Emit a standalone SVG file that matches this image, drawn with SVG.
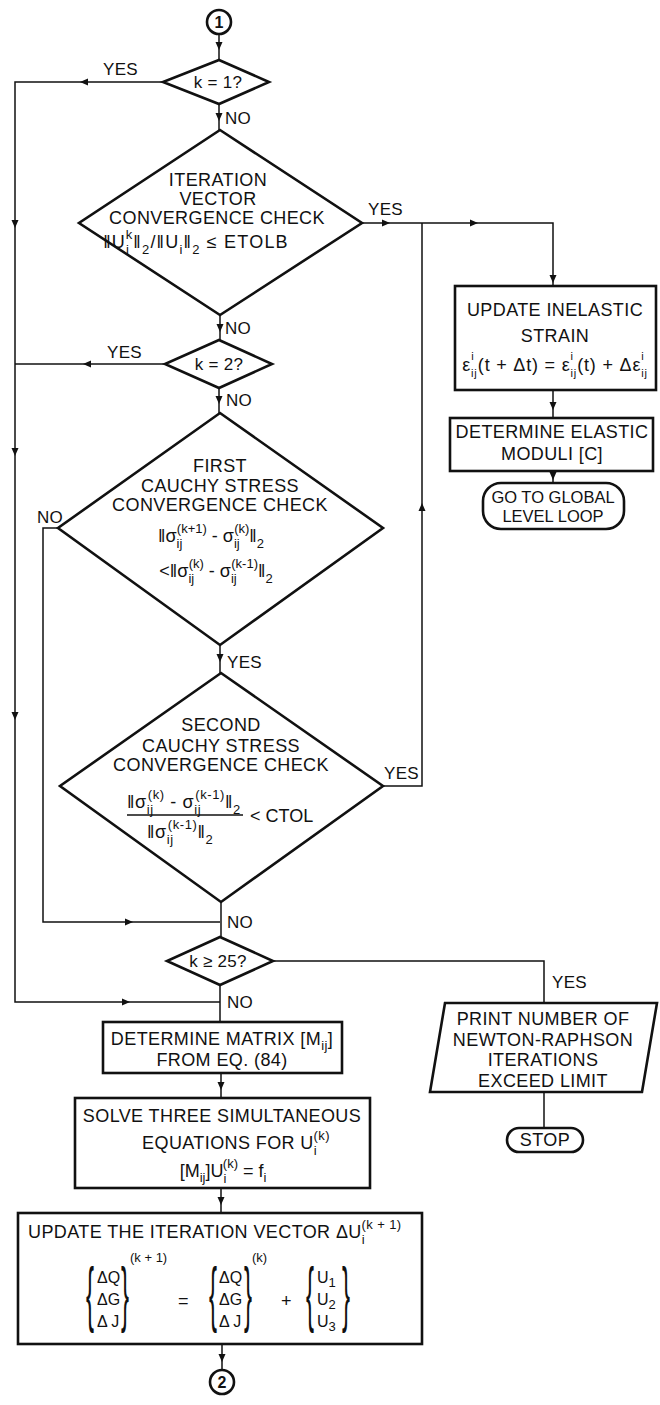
<svg xmlns="http://www.w3.org/2000/svg" width="660" height="1405" viewBox="0 0 660 1405">
<style>
text{font-family:"Liberation Sans",Arial,"DejaVu Sans",sans-serif;fill:#111}
.t{font-size:18px;letter-spacing:0.4px;text-anchor:middle}
.ts{text-anchor:start}
.l{font-size:17px;letter-spacing:0.3px}
.f{font-size:18px}
.v{font-size:16px}
.s{font-size:13px}
.xs{font-size:11px}
.n{fill:#fff;stroke:#111;stroke-width:2.6}
.c path{fill:none;stroke:#111;stroke-width:1.5}
.br{font-size:24px}
</style>
<defs>
<path id="ah" d="M0,0 L-8,-3.5 L-8,3.5 Z" fill="#111" stroke="none"/>
</defs>
<rect width="660" height="1405" fill="#fff"/>

<g id="connectors" class="c">
<path d="M219,34 V60"/>
<path d="M163,82 H15 V1002 H220"/>
<path d="M219,104 V130"/>
<path d="M362,223 H553 V286"/>
<path d="M220,315 V340"/>
<path d="M165,364 H15"/>
<path d="M219,388 V413"/>
<path d="M58,528 H43 V922 H220"/>
<path d="M220,645 V673"/>
<path d="M383,786 H422 V223"/>
<path d="M221,902 V937"/>
<path d="M273,961 H544 V1003"/>
<path d="M220,985 V1022"/>
<path d="M553,390 V418"/>
<path d="M553,471 V483"/>
<path d="M544,1092 V1128"/>
<path d="M221,1073 V1098"/>
<path d="M221,1188 V1213"/>
<path d="M222,1344 V1370"/>
<use href="#ah" transform="translate(219,50) rotate(90)"/>
<use href="#ah" transform="translate(80,82) rotate(180)"/>
<use href="#ah" transform="translate(15,228) rotate(90)"/>
<use href="#ah" transform="translate(219,121) rotate(90)"/>
<use href="#ah" transform="translate(390,223)"/>
<use href="#ah" transform="translate(478,223)"/>
<use href="#ah" transform="translate(553,283) rotate(90)"/>
<use href="#ah" transform="translate(220,332) rotate(90)"/>
<use href="#ah" transform="translate(83,364) rotate(180)"/>
<use href="#ah" transform="translate(15,456) rotate(90)"/>
<use href="#ah" transform="translate(219,404) rotate(90)"/>
<use href="#ah" transform="translate(133,922)"/>
<use href="#ah" transform="translate(220,662) rotate(90)"/>
<use href="#ah" transform="translate(422,503) rotate(-90)"/>
<use href="#ah" transform="translate(15,720) rotate(90)"/>
<use href="#ah" transform="translate(130,1002)"/>
<use href="#ah" transform="translate(553,410) rotate(90)"/>
<use href="#ah" transform="translate(553,480) rotate(90)"/>
<use href="#ah" transform="translate(221,1090) rotate(90)"/>
<use href="#ah" transform="translate(221,1205) rotate(90)"/>
<use href="#ah" transform="translate(222,1362) rotate(90)"/>
<text class="l" x="103" y="75">YES</text>
<text class="l" x="225" y="124">NO</text>
<text class="l" x="368" y="215">YES</text>
<text class="l" x="225" y="334">NO</text>
<text class="l" x="107" y="358">YES</text>
<text class="l" x="226" y="406">NO</text>
<text class="l" x="37" y="523">NO</text>
<text class="l" x="227" y="668">YES</text>
<text class="l" x="384" y="779">YES</text>
<text class="l" x="227" y="928">NO</text>
<text class="l" x="552" y="988">YES</text>
<text class="l" x="227" y="1008">NO</text>
</g>

<g id="start1">
<circle class="n" cx="219" cy="22" r="12" stroke-width="2.2"/>
<text x="219" y="28" text-anchor="middle" font-size="16" font-weight="bold">1</text>
</g>

<g id="k1">
<polygon class="n" points="219,60 269,82 219,104 163,82"/>
<text class="l" x="218" y="88" text-anchor="middle">k = 1?</text>
</g>

<g id="iterCheck">
<polygon class="n" points="220,130 362,223 220,315 79,223"/>
<text class="t" x="218" y="186">ITERATION</text>
<text class="t" x="218" y="205">VECTOR</text>
<text class="t" x="217" y="224">CONVERGENCE CHECK</text>
<text class="f" x="196" y="248" text-anchor="middle" font-size="19" letter-spacing="1.2">‖U<tspan class="s" dy="6">i</tspan><tspan class="s" dx="-4.5" dy="-15">k</tspan><tspan dy="9">‖</tspan><tspan class="s" dy="6">2</tspan><tspan dy="-6">/‖U</tspan><tspan class="s" dy="6">i</tspan><tspan dy="-6">‖</tspan><tspan class="s" dy="6">2</tspan><tspan dy="-6"> ≤ ETOLB</tspan></text>
</g>

<g id="k2">
<polygon class="n" points="219,340 272,364 219,388 165,364"/>
<text class="l" x="219" y="370" text-anchor="middle">k = 2?</text>
</g>

<g id="firstCauchy">
<polygon class="n" points="220,413 383,528 220,645 58,528"/>
<text class="t" x="220" y="472">FIRST</text>
<text class="t" x="220" y="492">CAUCHY STRESS</text>
<text class="t" x="220" y="511">CONVERGENCE CHECK</text>
<text class="f" x="211" y="542" text-anchor="middle">‖σ<tspan class="s" dy="6">ij</tspan><tspan class="s" dx="-5.5" dy="-15">(k+1)</tspan><tspan dy="9"> - σ</tspan><tspan class="s" dy="6">ij</tspan><tspan class="s" dx="-5.5" dy="-15">(k)</tspan><tspan dy="9">‖</tspan><tspan class="s" dy="6">2</tspan></text>
<text class="f" x="216" y="577" text-anchor="middle">&lt;‖σ<tspan class="s" dy="6">ij</tspan><tspan class="s" dx="-5.5" dy="-15">(k)</tspan><tspan dy="9"> - σ</tspan><tspan class="s" dy="6">ij</tspan><tspan class="s" dx="-5.5" dy="-15">(k-1)</tspan><tspan dy="9">‖</tspan><tspan class="s" dy="6">2</tspan></text>
</g>

<g id="secondCauchy">
<polygon class="n" points="221,673 383,786 221,902 60,786"/>
<text class="t" x="221" y="731">SECOND</text>
<text class="t" x="221" y="752">CAUCHY STRESS</text>
<text class="t" x="221" y="771">CONVERGENCE CHECK</text>
<text class="f" x="127" y="808" letter-spacing="0.6">‖σ<tspan class="s" dy="6">ij</tspan><tspan class="s" dx="-6" dy="-15">(k)</tspan><tspan dy="9"> - σ</tspan><tspan class="s" dy="6">ij</tspan><tspan class="s" dx="-6" dy="-15">(k-1)</tspan><tspan dy="9">‖</tspan><tspan class="s" dy="6">2</tspan></text>
<path d="M127,815 H243" stroke="#111" stroke-width="1.5"/>
<text class="f" x="250" y="822">&lt; CTOL</text>
<text class="f" x="147" y="838" letter-spacing="0.6">‖σ<tspan class="s" dy="6">ij</tspan><tspan class="s" dx="-6" dy="-15">(k-1)</tspan><tspan dy="9">‖</tspan><tspan class="s" dy="6">2</tspan></text>
</g>

<g id="k25">
<polygon class="n" points="220,937 273,961 220,985 167,961"/>
<text class="l" x="218" y="967" text-anchor="middle">k ≥ 25?</text>
</g>

<g id="updateStrain">
<rect class="n" x="455" y="286" width="201" height="104"/>
<text class="t" x="555" y="316">UPDATE INELASTIC</text>
<text class="t" x="555" y="342">STRAIN</text>
<text class="f" x="555" y="371" text-anchor="middle" letter-spacing="0.8">ε<tspan class="xs" dy="6">ij</tspan><tspan class="xs" dx="-6.4" dy="-17">i</tspan><tspan dx="3.4" dy="11">(t + Δt) = ε</tspan><tspan class="xs" dy="6">ij</tspan><tspan class="xs" dx="-6.4" dy="-17">i</tspan><tspan dx="3.4" dy="11">(t) + Δε</tspan><tspan class="xs" dy="6">ij</tspan><tspan class="xs" dx="-6.4" dy="-17">i</tspan></text>
</g>

<g id="elastic">
<rect class="n" x="450" y="418" width="203" height="53"/>
<text class="t" x="552" y="438">DETERMINE ELASTIC</text>
<text class="t" x="552" y="460">MODULI [C]</text>
</g>

<g id="gotoGlobal">
<rect class="n" x="483" y="483" width="141" height="46" rx="18"/>
<text class="t" x="553" y="503" style="font-size:16.5px;letter-spacing:0">GO TO GLOBAL</text>
<text class="t" x="553" y="522" style="font-size:16.5px;letter-spacing:0">LEVEL LOOP</text>
</g>

<g id="printLimit">
<polygon class="n" points="445,1003 657,1003 642,1092 430,1092"/>
<text class="t" x="543" y="1025">PRINT NUMBER OF</text>
<text class="t" x="543" y="1046">NEWTON-RAPHSON</text>
<text class="t" x="543" y="1066">ITERATIONS</text>
<text class="t" x="543" y="1087">EXCEED LIMIT</text>
</g>

<g id="stop">
<rect class="n" x="507" y="1128" width="76" height="24" rx="12"/>
<text class="t" x="545" y="1146">STOP</text>
</g>

<g id="matrix">
<rect class="n" x="103" y="1022" width="239" height="51"/>
<text class="t" x="222" y="1045">DETERMINE MATRIX [M<tspan class="s" dy="5">ij</tspan><tspan dy="-5">]</tspan></text>
<text class="t" x="222" y="1066">FROM EQ. (84)</text>
</g>

<g id="solve">
<rect class="n" x="75" y="1098" width="295" height="90"/>
<text class="t" x="222" y="1122">SOLVE THREE SIMULTANEOUS</text>
<text class="t" x="236" y="1149">EQUATIONS FOR U<tspan class="s" dy="6">i</tspan><tspan class="s" dx="-3.5" dy="-15">(k)</tspan></text>
<text class="f" x="223" y="1177" text-anchor="middle">[M<tspan class="s" dy="5">ij</tspan><tspan dy="-5">]U</tspan><tspan class="s" dy="6">i</tspan><tspan class="s" dx="-3.5" dy="-15">(k)</tspan><tspan dy="9"> = f</tspan><tspan class="s" dy="5">i</tspan></text>
</g>

<g id="updateVector">
<rect class="n" x="18" y="1213" width="404" height="131"/>
<text class="t ts" x="28" y="1238">UPDATE THE ITERATION VECTOR ΔU<tspan class="s" dy="6">i</tspan><tspan class="s" dx="-3.5" dy="-15">(k + 1)</tspan></text>
<text class="br" transform="translate(86,1318) scale(1,3)">{</text>
<text class="br" transform="translate(121,1318) scale(1,3)">}</text>
<text class="v" x="97" y="1283">ΔQ</text>
<text class="v" x="97" y="1305">ΔG</text>
<text class="v" x="97" y="1327">Δ J</text>
<text class="s" x="130" y="1262">(k + 1)</text>
<text class="f" x="178" y="1307">=</text>
<text class="br" transform="translate(209,1318) scale(1,3)">{</text>
<text class="br" transform="translate(244,1318) scale(1,3)">}</text>
<text class="v" x="219" y="1283">ΔQ</text>
<text class="v" x="219" y="1305">ΔG</text>
<text class="v" x="219" y="1327">Δ J</text>
<text class="s" x="252" y="1262">(k)</text>
<text class="f" x="281" y="1307">+</text>
<text class="br" transform="translate(306,1318) scale(1,3)">{</text>
<text class="br" transform="translate(342,1318) scale(1,3)">}</text>
<text class="v" x="317" y="1283">U<tspan class="s" dy="4">1</tspan></text>
<text class="v" x="317" y="1305">U<tspan class="s" dy="4">2</tspan></text>
<text class="v" x="317" y="1327">U<tspan class="s" dy="4">3</tspan></text>
</g>

<g id="end2">
<circle class="n" cx="222" cy="1382" r="12" stroke-width="2.2"/>
<text x="222" y="1388" text-anchor="middle" font-size="16" font-weight="bold">2</text>
</g>
</svg>
